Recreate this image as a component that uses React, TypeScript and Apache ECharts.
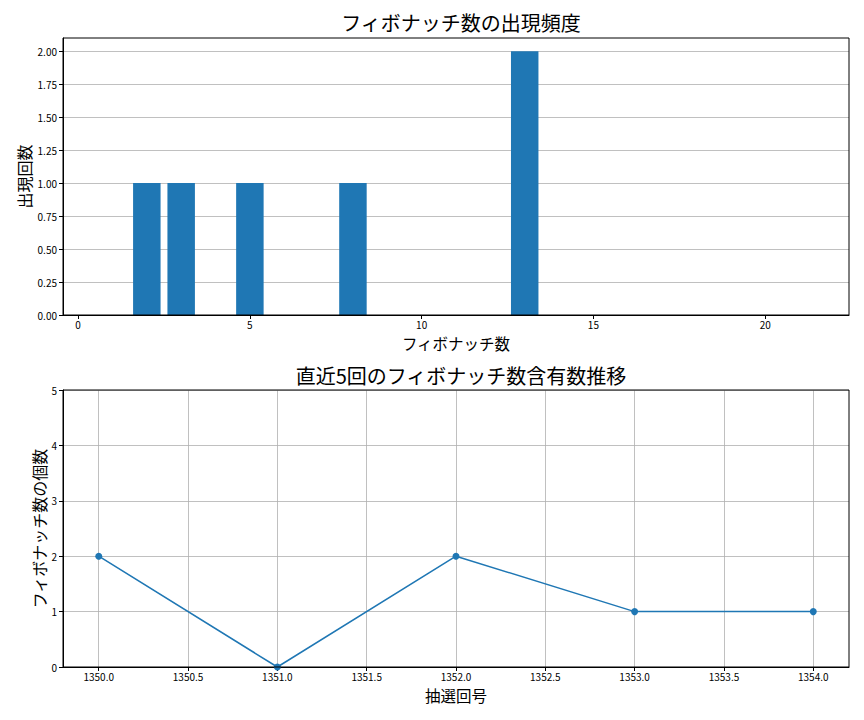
import React, { useEffect, useRef } from "react";
import * as echarts from "echarts";

const fibNumbers = [1, 2, 3, 5, 8, 13, 21];
const fibCounts = [0, 1, 1, 1, 1, 2, 0];
const topXTicks = [0, 5, 10, 15, 20];
const topYTicks = [0, 0.25, 0.5, 0.75, 1, 1.25, 1.5, 1.75, 2];

const drawNumbers = [1350, 1351, 1352, 1353, 1354];
const fibPerDraw = [2, 0, 2, 1, 1];
const bottomXTicks = [1350, 1350.5, 1351, 1351.5, 1352, 1352.5, 1353, 1353.5, 1354];

const BLUE = "#1f77b4";
const FONT = "'Noto Sans CJK JP', 'Noto Sans', sans-serif";
const GRID_COLOR = "#b0b0b0";

export default function App() {
  const ref = useRef<HTMLDivElement>(null);
  useEffect(() => {
    if (!ref.current) return;
    const chart = echarts.init(ref.current, undefined, { renderer: "svg" });
    const tickLabel = { color: "#000", fontSize: 10, fontFamily: FONT, margin: 6, lineHeight: 11 };
    const xTickLabel = { ...tickLabel, margin: 4 };
    const axisLine = { show: true, onZero: false, lineStyle: { color: "#000", width: 1 } };
    const axisTick = { show: true, length: 4, inside: false, lineStyle: { color: "#000" } };
    const nameStyle = { fontSize: 15.5, lineHeight: 16, color: "#000", fontFamily: FONT };
    const option: any = {
      animation: false,
      backgroundColor: "#fff",
      textStyle: { fontFamily: FONT },
      title: [
        {
          text: "フィボナッチ数の出現頻度",
          left: 456,
          textAlign: "center",
          top: 7,
          textStyle: { fontSize: 20, fontWeight: "normal", color: "#000", fontFamily: FONT },
        },
        {
          text: "直近5回のフィボナッチ数含有数推移",
          left: 456,
          textAlign: "center",
          top: 360,
          textStyle: { fontSize: 20, fontWeight: "normal", color: "#000", fontFamily: FONT },
        },
      ],
      grid: [
        { left: 63, top: 38, width: 786, height: 277, containLabel: false },
        { left: 63, top: 390, width: 786, height: 277, containLabel: false },
      ],
      xAxis: [
        {
          type: "value",
          gridIndex: 0,
          min: -0.44,
          max: 22.44,
          name: "フィボナッチ数",
          nameLocation: "middle",
          nameGap: 20,
          nameMoveOverlap: false,
          nameTextStyle: nameStyle,
          axisLine,
          axisTick: { ...axisTick, customValues: topXTicks },
          axisLabel: { ...xTickLabel, customValues: topXTicks, formatter: (v: number) => String(v) },
          splitLine: { show: false },
        },
        {
          type: "value",
          gridIndex: 1,
          min: 1349.8,
          max: 1354.2,
          name: "抽選回号",
          nameLocation: "middle",
          nameGap: 20,
          nameMoveOverlap: false,
          nameTextStyle: nameStyle,
          axisLine,
          axisTick: { ...axisTick, customValues: bottomXTicks },
          axisLabel: { ...xTickLabel, customValues: bottomXTicks, formatter: (v: number) => v.toFixed(1) },
          splitLine: { show: true, lineStyle: { color: GRID_COLOR, width: 0.8 } },
        },
      ],
      yAxis: [
        {
          type: "value",
          gridIndex: 0,
          min: 0,
          max: 2.1,
          name: "出現回数",
          nameLocation: "middle",
          nameGap: 31,
          nameMoveOverlap: false,
          nameTextStyle: { ...nameStyle, fontSize: 16 },
          axisLine,
          axisTick: { ...axisTick, customValues: topYTicks },
          axisLabel: { ...tickLabel, customValues: topYTicks, formatter: (v: number) => v.toFixed(2) },
          splitLine: { show: true, lineStyle: { color: GRID_COLOR, width: 0.8 } },
        },
        {
          type: "value",
          gridIndex: 1,
          min: 0,
          max: 5,
          interval: 1,
          name: "フィボナッチ数の個数",
          nameLocation: "middle",
          nameGap: 16,
          nameMoveOverlap: false,
          nameTextStyle: { ...nameStyle, fontSize: 16 },
          axisLine,
          axisTick,
          axisLabel: { ...tickLabel, formatter: (v: number) => String(v) },
          splitLine: { show: true, lineStyle: { color: GRID_COLOR, width: 0.8 } },
        },
      ],
      series: [
        {
          type: "custom",
          xAxisIndex: 0,
          yAxisIndex: 0,
          data: fibNumbers.map((n, i) => [n, fibCounts[i]]),
          renderItem: (params: any, api: any) => {
            const x = api.value(0);
            const y = api.value(1);
            if (!y) return null;
            const p0 = api.coord([x - 0.4, y]);
            const p1 = api.coord([x + 0.4, 0]);
            return {
              type: "rect",
              shape: { x: p0[0], y: p0[1], width: p1[0] - p0[0], height: p1[1] - p0[1] },
              style: { fill: BLUE },
            };
          },
          z: 3,
        },
        {
          type: "line",
          xAxisIndex: 1,
          yAxisIndex: 1,
          data: drawNumbers.map((n, i) => [n, fibPerDraw[i]]),
          symbol: "circle",
          symbolSize: 7,
          itemStyle: { color: BLUE },
          lineStyle: { color: BLUE, width: 1.5 },
          clip: false,
          z: 3,
        },
      ],
      graphic: [
        {
          type: "rect",
          shape: { x: 63, y: 38, width: 786, height: 277 },
          style: { fill: "none", stroke: "#000", lineWidth: 1 },
          z: 100,
          silent: true,
        },
        {
          type: "rect",
          shape: { x: 63, y: 390, width: 786, height: 277 },
          style: { fill: "none", stroke: "#000", lineWidth: 1 },
          z: 100,
          silent: true,
        },
      ],
    };
    chart.setOption(option);
    return () => chart.dispose();
  }, []);
  return (
    <div
      ref={ref}
      style={{ position: "absolute", left: 0, top: 0, width: 864, height: 720 }}
    />
  );
}
